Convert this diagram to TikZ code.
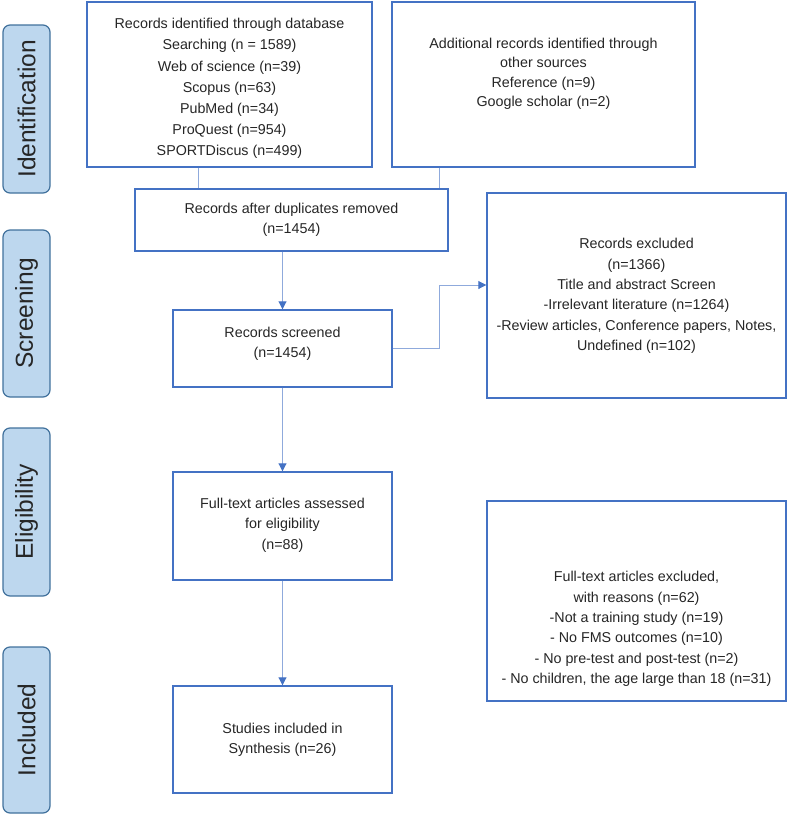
\documentclass[tikz,border=0pt]{standalone}
\usepackage{fontspec}
\setmainfont{Liberation Sans}
\usetikzlibrary{arrows.meta}
\definecolor{boxblue}{HTML}{4472C4}
\definecolor{lineblue}{HTML}{8FAADC}
\definecolor{sidefill}{HTML}{BDD7EE}
\definecolor{sideborder}{HTML}{41719C}
\begin{document}
\begin{tikzpicture}[x=1pt,y=-1pt,
  box/.style={draw=boxblue,line width=1.4pt,fill=white,inner sep=0pt,align=center},
  txt/.style={align=center,inner sep=0pt,font=\fontsize{14.3}{20.3}\selectfont,text=black!85},
  side/.style={draw=sideborder,line width=1.2pt,fill=sidefill,rounded corners=7pt,
    minimum width=47pt,inner sep=0pt},
  sidetxt/.style={rotate=90,font=\fontsize{24.5}{26}\selectfont,text=black!85},
  conn/.style={draw=lineblue,line width=0.9pt},
  arr/.style={conn,-{Triangle[length=8pt,width=8pt,fill=boxblue,color=boxblue]}}]
\useasboundingbox (0,0) rectangle (789,817);

% side labels
\node[side,minimum height=168pt] (sid) at (26.5,109) {};
\node[sidetxt] at (sid.center) {Identification};
\node[side,minimum height=167pt] (ssc) at (26.5,313.5) {};
\node[sidetxt] at (ssc.center) {Screening};
\node[side,minimum height=168pt] (sel) at (26.5,512) {};
\node[sidetxt] at (sel.center) {Eligibility};
\node[side,minimum height=166pt] (sin) at (26.5,730) {};
\node[sidetxt] at (sin.center) {Included};

% boxes
\node[box,minimum width=285pt,minimum height=165pt] (b1) at (229.5,84.5) {};
\node[txt,font=\fontsize{14.3}{21.2}\selectfont] (t1) at (229.5,88.5) {Records identified through database\\Searching (n = 1589)\\Web of science (n=39)\\Scopus (n=63)\\PubMed (n=34)\\ProQuest (n=954)\\SPORTDiscus (n=499)};
\node[box,minimum width=303pt,minimum height=165pt] (b2) at (543.5,84.5) {};
\node[txt,font=\fontsize{14.3}{19.5}\selectfont] (t2) at (543.5,74) {Additional records identified through\\other sources\\Reference (n=9)\\Google scholar (n=2)};

\node[box,minimum width=313pt,minimum height=62pt] (dup) at (291.5,220) {};
\node[txt] at (291.5,220) {Records after duplicates removed\\(n=1454)};

\node[box,minimum width=219pt,minimum height=77pt] (scr) at (282.5,348.5) {};
\node[txt] at (282.5,344) {Records screened\\(n=1454)};

\node[box,minimum width=299pt,minimum height=205pt] (exc) at (636.5,295.5) {};
\node[txt] at (636.5,296) {Records excluded\\(n=1366)\\Title and abstract Screen\\-Irrelevant literature (n=1264)\\-Review articles, Conference papers, Notes,\\Undefined (n=102)};

\node[box,minimum width=219pt,minimum height=108pt] (ft) at (282.5,526) {};
\node[txt] at (282.5,525) {Full-text articles assessed\\for eligibility\\(n=88)};

\node[box,minimum width=219pt,minimum height=107pt] (inc) at (282.5,739.5) {};
\node[txt] at (282.5,740) {Studies included in\\Synthesis (n=26)};

\node[box,minimum width=299pt,minimum height=200pt] (fte) at (636.5,601) {};
\node[txt] at (636.5,629) {Full-text articles excluded,\\with reasons (n=62)\\-Not a training study (n=19)\\- No FMS outcomes (n=10)\\- No pre-test and post-test (n=2)\\- No children, the age large than 18 (n=31)};

% connectors
\draw[conn] (b1.south -| 198,0) -- (dup.north -| 198,0);
\draw[conn] (b2.south -| 439,0) -- (dup.north -| 439,0);
\draw[arr] (dup.south -| scr.north) -- (scr.north);
\draw[arr] (scr.east) -- (439,348.5) -- (439,285) -- (exc.west |- 439,285);
\draw[arr] (scr.south) -- (ft.north);
\draw[arr] (ft.south) -- (inc.north);
\end{tikzpicture}
\end{document}
